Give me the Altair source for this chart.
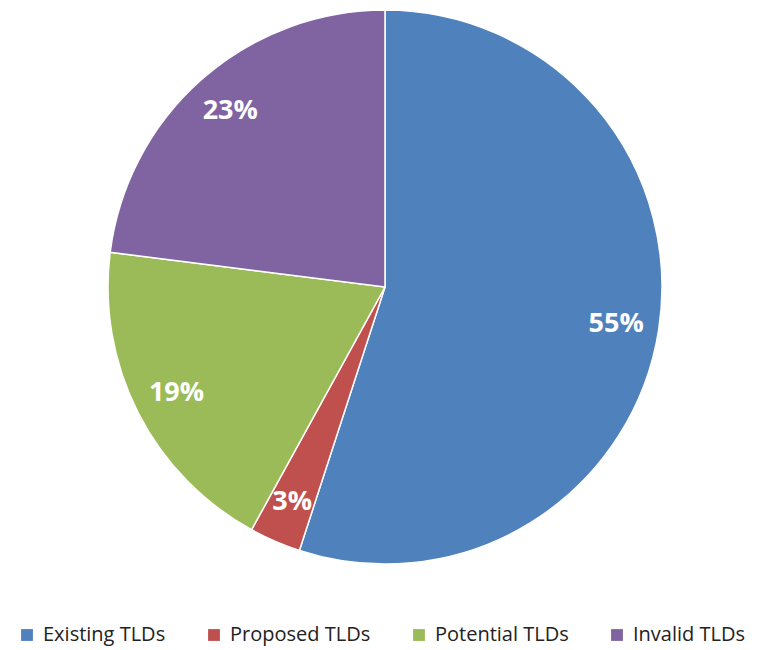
import altair as alt
import pandas as pd

categories = ["Existing TLDs", "Proposed TLDs", "Potential TLDs", "Invalid TLDs"]
values = [55, 3, 19, 23]
labels = ["55%", "3%", "19%", "23%"]
colors = ["#4F81BD", "#C0504D", "#9BBB59", "#8064A2"]

df = pd.DataFrame({"cat": categories, "val": values, "label": labels,
                   "order": list(range(len(categories)))})

cx, cy = 377, 279

base = alt.Chart(df).encode(
    theta=alt.Theta("val:Q", stack=True),
    order=alt.Order("order:Q"),
    x=alt.value(cx),
    y=alt.value(cy),
)

pie = base.mark_arc(radius=277, stroke="white", strokeWidth=1.5).encode(
    color=alt.Color("cat:N", sort=categories,
                    scale=alt.Scale(domain=categories, range=colors),
                    legend=alt.Legend(title=None, orient="none", direction="horizontal",
                                      legendX=9, legendY=617, symbolType="square",
                                      symbolSize=140, symbolStrokeWidth=0,
                                      labelFont="Open Sans", labelFontSize=20,
                                      labelColor="#222222", columnPadding=38,
                                      labelOffset=6, labelLimit=300))
)

text = base.mark_text(radius=234, font="Open Sans", fontWeight="bold",
                      fontSize=27, color="white").encode(text="label:N")

chart = (pie + text).properties(width=749, height=640, padding=0,
                                autosize=alt.AutoSizeParams(type="none")).configure_view(stroke=None)

chart.save("out.html", embed_options={"renderer": "svg", "actions": False})
